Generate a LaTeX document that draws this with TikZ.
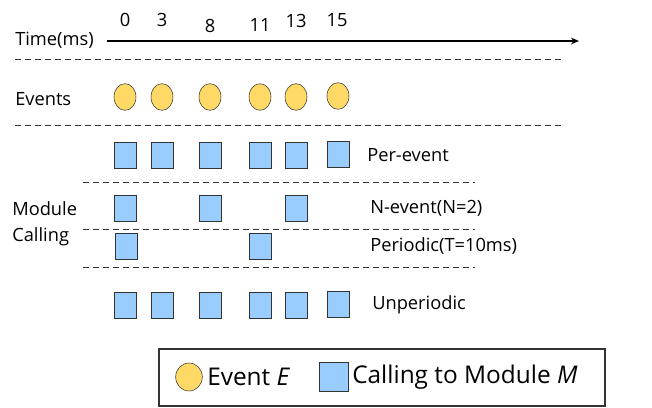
\documentclass[tikz,border=0pt]{standalone}
\usepackage{fontspec}
\setmainfont{Open Sans}
\usetikzlibrary{arrows.meta,shapes.geometric}
\definecolor{evfill}{HTML}{FFD966}
\definecolor{callfill}{HTML}{99CCFF}

\begin{document}
\begin{tikzpicture}[x=0.75pt,y=-0.75pt,
  event/.style={ellipse,draw=black!80,fill=evfill,inner sep=0pt,minimum width=16.5pt,minimum height=20pt},
  call/.style={rectangle,draw=black!80,fill=callfill,inner sep=0pt,minimum width=16.5pt,minimum height=19.5pt},
  sep/.style={draw=black!80,line width=0.6pt,dash pattern=on 4.5pt off 3pt},
  lbl/.style={font=\fontsize{13.7}{19.5}\selectfont,inner sep=0pt},
  leg/.style={font=\fontsize{18.3}{22}\selectfont,inner sep=0pt}]
\useasboundingbox (0,0) rectangle (652,407);
\node[lbl,anchor=west] at (15,40) (time) {Time(ms)};
\coordinate (t0) at (107,41);
\coordinate (t1) at (579,41);
\draw[line width=1.3pt,-{Stealth[length=6pt,width=5pt]}] (t0) -- (t1);
\node[lbl] at (125,20) (n0) {0};
\node[lbl] at (162,20) (n3) {3};
\node[lbl] at (210,26) (n8) {8};
\node[lbl] at (260,25) (n11) {11};
\node[lbl] at (296,21) (n13) {13};
\node[lbl] at (337,20) (n15) {15};
\coordinate (d1a) at (15,59);
\coordinate (d1b) at (565,59);
\draw[sep] (d1a) -- (d1b);
\node[lbl,anchor=west] at (15,99) (ev) {Events};
\node[event] at (125,97) (e1) {};
\node[event] at (162,97) (e2) {};
\node[event] at (210,97) (e3) {};
\node[event] at (260,97) (e4) {};
\node[event] at (296,97) (e5) {};
\node[event] at (338,96) (e6) {};
\coordinate (d2a) at (15,125);
\coordinate (d2b) at (565,125);
\draw[sep] (d2a) -- (d2b);
\node[call] at (125,155) (p1) {};
\node[call] at (162,155) (p2) {};
\node[call] at (210,155) (p3) {};
\node[call] at (260,155) (p4) {};
\node[call] at (296,155) (p5) {};
\node[call] at (338,154) (p6) {};
\node[lbl,anchor=west] at (367,155) (per) {Per-event};
\coordinate (d3a) at (83,182);
\coordinate (d3b) at (475,182);
\draw[sep] (d3a) -- (d3b);
\node[lbl,anchor=west,align=left] at (12,224) (mod) {Module\\Calling};
\node[call] at (125,208) (q1) {};
\node[call] at (210,208) (q2) {};
\node[call] at (296,208) (q3) {};
\node[lbl,anchor=west] at (370,208) (nev) {N-event(N=2)};
\coordinate (d4a) at (83,229);
\coordinate (d4b) at (475,229);
\draw[sep] (d4a) -- (d4b);
\node[call] at (126,246) (r1) {};
\node[call] at (260,246) (r2) {};
\node[lbl,anchor=west] at (370,246) (peri) {Periodic(T=10ms)};
\coordinate (d5a) at (83,267);
\coordinate (d5b) at (475,267);
\draw[sep] (d5a) -- (d5b);
\node[call] at (125,305) (u1) {};
\node[call] at (162,305) (u2) {};
\node[call] at (210,305) (u3) {};
\node[call] at (260,305) (u4) {};
\node[call] at (296,305) (u5) {};
\node[call] at (338,304) (u6) {};
\node[lbl,anchor=west] at (372,305) (unp) {Unperiodic};
\draw[black!80,line width=0.8pt] (159,349) rectangle (605,406);
\node[event,minimum width=20pt,minimum height=21pt] at (189,377) (le) {};
\node[leg,anchor=west] at (207,377) (let) {Event \textit{E}};
\node[call,minimum width=21.5pt,minimum height=21.5pt] at (334,377) (lc) {};
\node[leg,anchor=west] at (352,377) (lct) {Calling to Module \textit{M}};
\end{tikzpicture}
\end{document}
